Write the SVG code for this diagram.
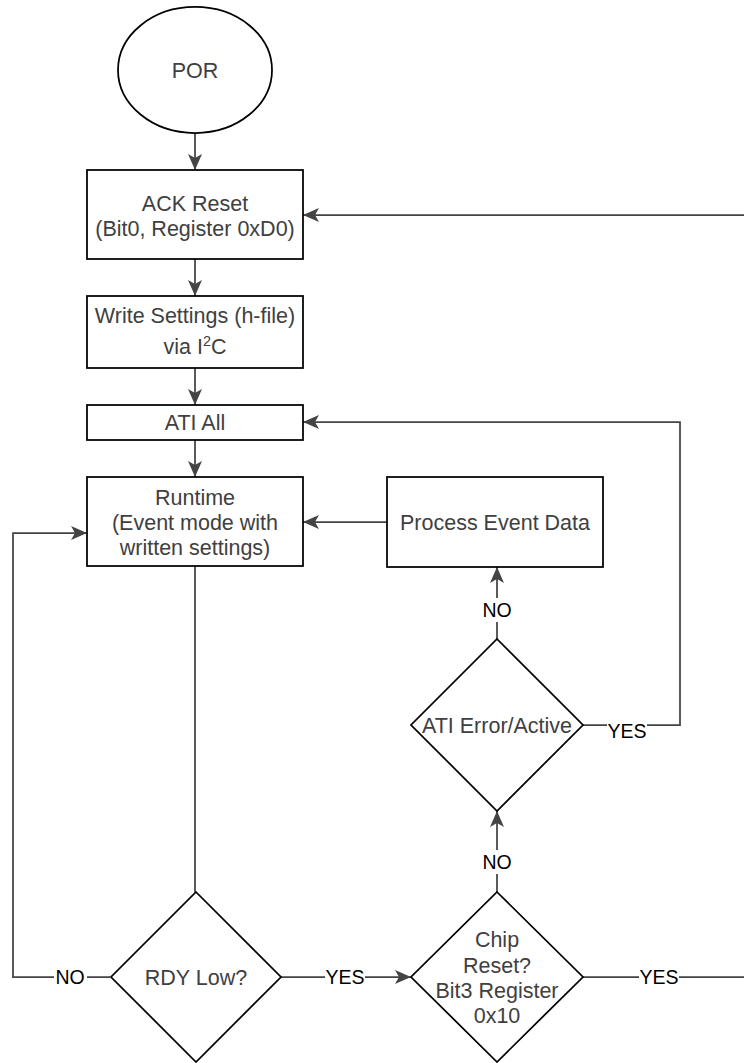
<svg xmlns="http://www.w3.org/2000/svg" width="744" height="1063" viewBox="0 0 744 1063">
<defs>
<style>
.shape{fill:#fff;stroke:#000;stroke-width:1.75}
.t{font-family:"Liberation Sans",Arial,sans-serif;font-size:21.5px;fill:#404040;text-anchor:middle}
.lbl{font-family:"Liberation Sans",Arial,sans-serif;font-size:19.5px;fill:#000;text-anchor:middle}
.edge{fill:none;stroke:#444;stroke-width:1.75}
.lbg{fill:#fff}
</style>
<marker id="arr" viewBox="0 0 16 14" refX="16" refY="7" markerWidth="16" markerHeight="14" markerUnits="userSpaceOnUse" orient="auto">
<path d="M0,0 L16,7 L0,14 L4,7 Z" fill="#444"/>
</marker>
</defs>
<rect width="744" height="1063" fill="#fff"/>
<g id="connectors">
<path class="edge" d="M195,133 V170" marker-end="url(#arr)"/>
<path class="edge" d="M195,259 V296" marker-end="url(#arr)"/>
<path class="edge" d="M195,368 V405" marker-end="url(#arr)"/>
<path class="edge" d="M195,440 V477" marker-end="url(#arr)"/>
<path class="edge" d="M387,522 H303" marker-end="url(#arr)"/>
<path class="edge" d="M195,566 V892"/>
<path class="edge" d="M110,977 H13 V533 H87" marker-end="url(#arr)"/>
<path class="edge" d="M281,977 H411" marker-end="url(#arr)"/>
<path class="edge" d="M497,892 V811" marker-end="url(#arr)"/>
<path class="edge" d="M497,639 V567" marker-end="url(#arr)"/>
<path class="edge" d="M583,725 H680 V422 H303" marker-end="url(#arr)"/>
<path class="edge" d="M583,977 H760 V215 H303" marker-end="url(#arr)"/>
<rect class="lbg" x="54" y="966" width="33" height="22"/>
<text class="lbl" x="70" y="984">NO</text>
<rect class="lbg" x="325" y="966" width="40" height="22"/>
<text class="lbl" x="345" y="984">YES</text>
<rect class="lbg" x="482" y="850" width="30" height="24"/>
<text class="lbl" x="497" y="869">NO</text>
<rect class="lbg" x="482" y="598" width="30" height="24"/>
<text class="lbl" x="497" y="617">NO</text>
<rect class="lbg" x="607" y="722" width="40" height="22"/>
<text class="lbl" x="627" y="738">YES</text>
<rect class="lbg" x="639" y="966" width="40" height="22"/>
<text class="lbl" x="659" y="984">YES</text>
</g>
<g id="por">
<ellipse class="shape" cx="195" cy="70" rx="77" ry="63"/>
<text class="t" x="195" y="78">POR</text>
</g>
<g id="ack-reset">
<rect class="shape" x="87" y="170" width="216" height="89"/>
<text class="t" x="195" y="211">ACK Reset</text>
<text class="t" x="195" y="236">(Bit0, Register 0xD0)</text>
</g>
<g id="write-settings">
<rect class="shape" x="87" y="296" width="216" height="72"/>
<text class="t" x="195" y="323">Write Settings (h-file)</text>
<text class="t" x="195" y="354">via I<tspan font-size="14.5" dy="-8">2</tspan><tspan dy="8">C</tspan></text>
</g>
<g id="ati-all">
<rect class="shape" x="87" y="405" width="216" height="35"/>
<text class="t" x="195" y="430">ATI All</text>
</g>
<g id="runtime">
<rect class="shape" x="87" y="477" width="216" height="89"/>
<text class="t" x="195" y="505">Runtime</text>
<text class="t" x="195" y="530">(Event mode with</text>
<text class="t" x="195" y="555">written settings)</text>
</g>
<g id="process-event-data">
<rect class="shape" x="387" y="477" width="216" height="90"/>
<text class="t" x="495" y="530">Process Event Data</text>
</g>
<g id="ati-error">
<path class="shape" d="M497,639 L583,725 L497,811 L411,725 Z"/>
<text class="t" x="497" y="733">ATI Error/Active</text>
</g>
<g id="rdy-low">
<path class="shape" d="M196,892 L281,977 L196,1062 L111,977 Z"/>
<text class="t" x="196" y="985">RDY Low?</text>
</g>
<g id="chip-reset">
<path class="shape" d="M497,892 L583,977 L497,1062 L411,977 Z"/>
<text class="t" x="497" y="947">Chip</text>
<text class="t" x="497" y="973">Reset?</text>
<text class="t" x="497" y="998">Bit3 Register</text>
<text class="t" x="497" y="1023">0x10</text>
</g>
</svg>
